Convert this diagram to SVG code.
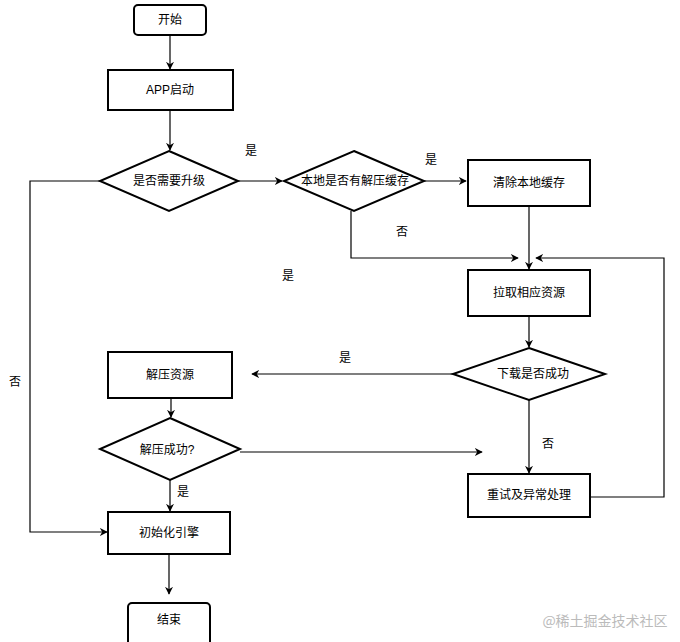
<svg xmlns="http://www.w3.org/2000/svg" width="680" height="642" viewBox="0 0 680 642">
<style>
.n{fill:#fff;stroke:#000;stroke-width:2}
.t{font-family:"Liberation Sans","Noto Sans CJK SC",sans-serif;font-size:12px;text-anchor:middle;dominant-baseline:central;fill:#000}
.e{fill:none;stroke:#000;stroke-width:1.2}
</style>
<defs><marker id="a" viewBox="0 0 10 10" refX="9" refY="5" markerWidth="8" markerHeight="8" orient="auto" markerUnits="userSpaceOnUse"><path d="M0,0 L10,5 L0,10 L3,5 Z" fill="#000"/></marker></defs>
<rect width="680" height="642" fill="#fff"/>
<g id="edges">
<path class="e" d="M170,35 V69" marker-end="url(#a)"/>
<path class="e" d="M170,110 V150" marker-end="url(#a)"/>
<path class="e" d="M238,181 H282" marker-end="url(#a)"/>
<path class="e" d="M424,181 H466" marker-end="url(#a)"/>
<path class="e" d="M351,211 V258 H518" marker-end="url(#a)"/>
<path class="e" d="M529,206 V269" marker-end="url(#a)"/>
<path class="e" d="M590,497 H664 V258 H536" marker-end="url(#a)"/>
<path class="e" d="M529,316 V347" marker-end="url(#a)"/>
<path class="e" d="M453,374 H252" marker-end="url(#a)"/>
<path class="e" d="M529,400 V473" marker-end="url(#a)"/>
<path class="e" d="M171,398 V417" marker-end="url(#a)"/>
<path class="e" d="M240,452 H482" marker-end="url(#a)"/>
<path class="e" d="M170,480 V511" marker-end="url(#a)"/>
<path class="e" d="M100,181 H30 V532 H107" marker-end="url(#a)"/>
<path class="e" d="M169,554 V594" marker-end="url(#a)"/>
<text class="t" x="251" y="151">是</text>
<text class="t" x="431" y="160">是</text>
<text class="t" x="402" y="232">否</text>
<text class="t" x="288" y="276">是</text>
<text class="t" x="15" y="382">否</text>
<text class="t" x="345" y="358">是</text>
<text class="t" x="548" y="444">否</text>
<text class="t" x="183" y="492">是</text>
</g>
<g id="start"><rect class="n" x="134" y="5" width="72" height="30" rx="4"/><text class="t" x="170" y="20">开始</text></g>
<g id="app"><rect class="n" x="108" y="70" width="125" height="40"/><text class="t" x="170" y="90">APP启动</text></g>
<g id="d1"><polygon class="n" points="169,151 238,181 169,211 100,181"/><text class="t" x="169" y="181">是否需要升级</text></g>
<g id="d2"><polygon class="n" points="354,151 424,181 354,211 284,181"/><text class="t" x="355" y="181">本地是否有解压缓存</text></g>
<g id="clear"><rect class="n" x="468" y="160" width="122" height="46"/><text class="t" x="529" y="183">清除本地缓存</text></g>
<g id="pull"><rect class="n" x="468" y="270" width="122" height="46"/><text class="t" x="529" y="293">拉取相应资源</text></g>
<g id="d3"><polygon class="n" points="529,348 605,374 529,400 453,374"/><text class="t" x="533" y="374">下载是否成功</text></g>
<g id="unzip"><rect class="n" x="108" y="352" width="124" height="46"/><text class="t" x="170" y="375">解压资源</text></g>
<g id="d4"><polygon class="n" points="170,418 240,449 170,480 100,449"/><text class="t" x="167" y="450">解压成功?</text></g>
<g id="retry"><rect class="n" x="468" y="474" width="122" height="43"/><text class="t" x="529" y="495">重试及异常处理</text></g>
<g id="init"><rect class="n" x="108" y="512" width="122" height="42"/><text class="t" x="169" y="533">初始化引擎</text></g>
<g id="end"><rect class="n" x="128" y="603" width="82" height="44" rx="4"/><text class="t" x="169" y="620">结束</text></g>
<text x="605" y="620" style="font-family:'Noto Sans CJK SC',sans-serif;font-size:14px;text-anchor:middle;dominant-baseline:central;fill:#bbb">@稀土掘金技术社区</text>
</svg>
